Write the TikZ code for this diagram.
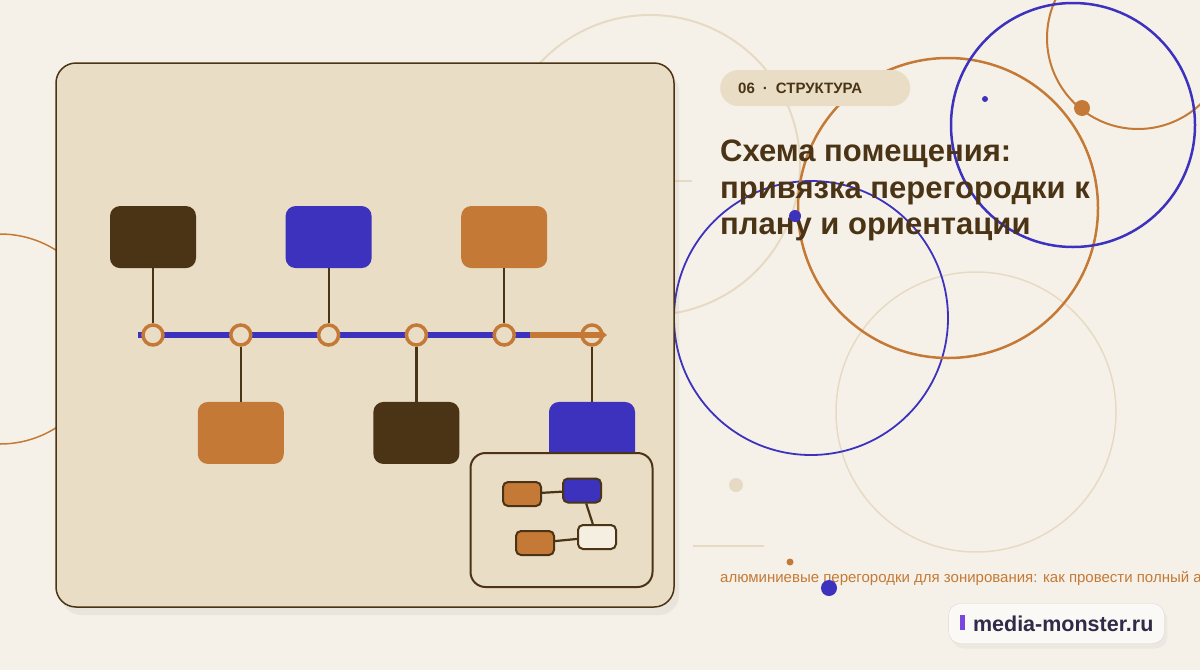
\documentclass[tikz,border=0pt]{standalone}
\usepackage{fontspec}
\setmainfont{Liberation Sans}
\usetikzlibrary{positioning,chains,shadows,arrows.meta}
\definecolor{paper}{HTML}{F6F1E8}
\definecolor{desk}{HTML}{E9DDC6}
\definecolor{ink}{HTML}{4A3415}
\definecolor{indigo}{HTML}{3D32BE}
\definecolor{copper}{HTML}{C47A36}
\definecolor{sand}{HTML}{E7DAC4}
\definecolor{cream}{HTML}{F5EFE1}
\definecolor{slate}{HTML}{2F2B48}
\definecolor{violet}{HTML}{7B45E0}
\tikzset{
  card/.style={ % the big plan card
    draw=ink, line width=1.5pt, fill=desk, rounded corners=20pt,
    minimum width=618pt, minimum height=544pt,
    drop shadow={shadow xshift=5pt, shadow yshift=-8pt, opacity=0.10}
  },
  block/.style={ % room block on the line
    rectangle, rounded corners=10pt, inner sep=0pt,
    minimum width=86pt, minimum height=62pt
  },
  hub/.style={ % joint on the line
    circle, draw=copper, line width=3.5pt, fill=desk,
    minimum size=20pt, inner sep=0pt
  },
  wire/.style={draw=ink, line width=2.2pt},
  inset/.style={ % small plan in the corner
    draw=ink, line width=2pt, fill=desk, rounded corners=15pt,
    minimum width=182pt, minimum height=134pt
  },
  mini/.style={ % room of the small plan
    draw=ink, line width=2pt, rounded corners=5pt, inner sep=0pt,
    minimum width=38pt, minimum height=24pt
  },
  tag/.style={
    rectangle, rounded corners=18pt, fill=desk, text=ink,
    font=\bfseries\fontsize{15}{17}\selectfont,
    minimum height=36pt, text width=154pt, inner xsep=18pt, align=left
  },
  badge/.style={
    draw=black!15, fill=white!60!paper, rounded corners=12pt, text=slate,
    font=\bfseries\fontsize{21.5}{24}\selectfont,
    minimum height=40pt, inner xsep=11pt,
    drop shadow={shadow xshift=3pt, shadow yshift=-5pt, opacity=0.08}
  },
  spot/.style={fill, draw=none}
}
\begin{document}
\begin{tikzpicture}[x=1pt, y=-1pt, start chain=going right, node distance=64.3pt]
  \useasboundingbox (0,0) rectangle (1200,670);
  \clip (0,0) rectangle (1200,670);
  \fill[paper] (0,0) rectangle (1200,670);

  % rings behind everything
  \draw[sand, line width=2pt] (650,165) circle (150);
  \draw[sand, line width=1.5pt] (976,412) circle (140);
  \draw[copper, line width=1.5pt] (0,339) circle (105);
  \draw[indigo, line width=1.8pt] (811,318) circle (137);
  \draw[copper, line width=2.5pt] (948,208) circle (150);
  \draw[copper, line width=2pt] (1138,38) circle (91);
  \draw[indigo, line width=2.5pt] (1073,125) circle (122);
  \draw[sand, line width=1.5pt] (660,181) -- (692,181);
  \draw[sand, line width=1.5pt] (693,546) -- (764,546);

  \node[card] (plan) at (365,335) {};

  \coordinate (start) at (138,335);
  \coordinate (turn) at (530,335);
  \coordinate (tip) at (607,335);
  \draw[indigo, line width=5.5pt] (start) -- (turn);

  \node[hub, on chain] (h1) at (153,335) {};
  \node[hub, on chain] (h2) {};
  \node[hub, on chain] (h3) {};
  \node[hub, on chain] (h4) {};
  \node[hub, on chain] (h5) {};
  \node[hub, on chain] (h6) {};
  \draw[copper, line width=5.5pt, -{Triangle[length=7pt,width=11pt]}] (turn) -- (tip);

  \node[block, fill=ink] (t1) [above=55pt of h1] {};
  \node[block, fill=indigo] (t2) [above=55pt of h3] {};
  \node[block, fill=copper] (t3) [above=55pt of h5] {};
  \node[block, fill=copper] (b1) [below=55pt of h2] {};
  \node[block, fill=ink] (b2) [below=55pt of h4] {};
  \node[block, fill=indigo] (b3) [below=55pt of h6] {};
  \foreach \a/\b in {t1/h1, t2/h3, t3/h5, h2/b1, h4/b2, h6/b3}
    \draw[wire] (\a) -- (\b);

  \node[inset] (map) at (561.5,520) {};
  \node[mini, fill=copper] (m1) at (522,494) {};
  \node[mini, fill=indigo] (m2) at (582,490.5) {};
  \node[mini, fill=copper] (m3) at (535,543) {};
  \node[mini, fill=cream] (m4) at (597,537) {};
  \draw[wire] (m1) -- (m2);
  \draw[wire] (m2) -- (m4);
  \draw[wire] (m3) -- (m4);

  \node[tag, anchor=west] (chapter) at (720,88) {06\hspace{8pt}·\hspace{8pt}СТРУКТУРА};
  \node[anchor=north west, inner sep=0pt, align=left, text=ink,
    font=\bfseries\fontsize{31}{36.5}\selectfont] (head) at (720,140)
    {Схема помещения:\\привязка перегородки к\\плану и ориентации};
  \node[anchor=base west, inner sep=0pt, text=copper,
    font=\fontsize{15}{17}\selectfont] (lead) at (720,582)
    {алюминиевые перегородки для зонирования: как провести полный а};

  % dots on top
  \fill[spot, copper] (1082,108) circle (8);
  \fill[spot, indigo] (985,99) circle (3);
  \fill[spot, indigo] (795,216) circle (6);
  \fill[spot, sand] (736,485) circle (7);
  \fill[spot, copper] (790,562) circle (3.5);
  \fill[spot, indigo] (829,588) circle (8);

  \node[badge] (site) at (1056.5,623.5)
    {\textcolor{violet}{\rule[2pt]{5.5pt}{15pt}}\hspace{8pt}media-monster.ru};
\end{tikzpicture}
\end{document}
